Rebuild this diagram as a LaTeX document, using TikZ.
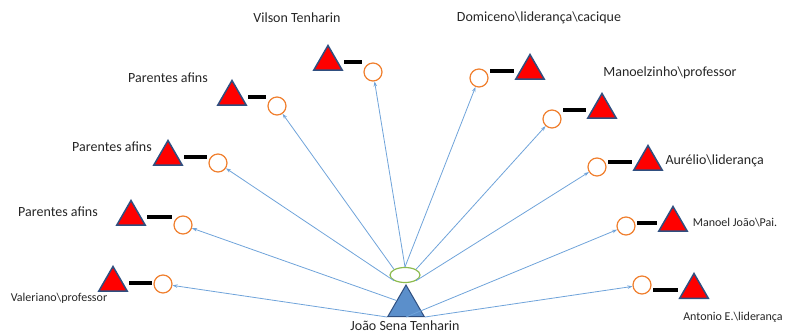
\documentclass[tikz,border=0pt]{standalone}
\usepackage{fontspec}
\setmainfont{Carlito}
\usetikzlibrary{shapes.geometric,arrows.meta}
\definecolor{contorno}{HTML}{2F4F80}
\definecolor{laranja}{HTML}{F07F2E}
\definecolor{verde}{HTML}{8DBB4E}
\definecolor{azul}{HTML}{5B8FCB}
\definecolor{linha}{HTML}{6FA3DA}
\definecolor{texto}{HTML}{262626}
\begin{document}
\begin{tikzpicture}[x=1pt,y=1pt,
    homem/.style={regular polygon,regular polygon sides=3,minimum size=33pt,inner sep=0pt,fill=red,draw=contorno,line width=1.5pt},
    mulher/.style={circle,minimum size=18pt,inner sep=0pt,fill=white,draw=laranja,line width=1.2pt},
    casal/.style={line width=4pt,shorten <=6pt,shorten >=11pt},
    seta/.style={draw=linha,line width=0.8pt,-{Stealth[length=5pt,width=3.5pt]}},
    nome/.style={font=\fontsize{14}{16}\selectfont,text=texto},
    nomep/.style={font=\fontsize{12}{14}\selectfont,text=texto}]
  \useasboundingbox (0,0) rectangle (785,335);
  % ego e esposa
  \node[regular polygon,regular polygon sides=3,minimum size=42pt,inner sep=0pt,fill=azul,draw=contorno,line width=1pt] (ego) at (406,29) {};
  \node[ellipse,minimum width=30pt,minimum height=15pt,inner sep=0pt,fill=white,draw=verde,line width=1.2pt] (esp) at (405,60) {};
  \node[nome] (lego) at (405,9) {João Sena Tenharin};
  % lado esquerdo
  \node[homem] (t1) at (113,52) {};  \node[mulher] (c1) at (163,51) {};
  \node[homem] (t2) at (131,118) {}; \node[mulher] (c2) at (183,110) {};
  \node[homem] (t3) at (168,178) {}; \node[mulher] (c3) at (218,172) {};
  \node[homem] (t4) at (232,238) {}; \node[mulher] (c4) at (277,229) {};
  \node[homem] (t5) at (328,273) {}; \node[mulher] (c5) at (373,263) {};
  % lado direito
  \node[homem] (t6) at (530,264) {};  \node[mulher] (c6) at (479,257) {};
  \node[homem] (t7) at (602,225) {};  \node[mulher] (c7) at (552,216) {};
  \node[homem] (t8) at (648,173) {};  \node[mulher] (c8) at (597,168) {};
  \node[homem] (t9) at (673,112) {};  \node[mulher] (c9) at (626,109) {};
  \node[homem] (t10) at (694,45) {};  \node[mulher] (c10) at (642,50) {};
  % nomes
  \node[nomep] (l1) at (59,37) {Valeriano\textbackslash professor};
  \node[nome] (l2) at (58,123) {Parentes afins};
  \node[nome] (l3) at (112,188) {Parentes afins};
  \node[nome] (l4) at (168,257) {Parentes afins};
  \node[nome] (l5) at (297,317) {Vilson Tenharin};
  \node[nome] (l6) at (539,317) {Domiceno\textbackslash liderança\textbackslash cacique};
  \node[nome] (l7) at (670,262) {Manoelzinho\textbackslash professor};
  \node[nome,anchor=west] (l8) at (662,174) {Aurélio\textbackslash liderança};
  \node[nomep] (l9) at (735,112) {Manoel João\textbackslash Pai.};
  \node[nomep] (l10) at (733,18) {Antonio E.\textbackslash liderança};
  % casamentos
  \foreach \i in {1,...,10}{\draw[casal] (t\i) -- (t\i -| c\i);}
  % ligacoes
  \foreach \o/\d in {ego.corner 2/c1,ego.side 1/c2,esp.south west/c3,esp.north west/c4,esp.north/c5,
                     esp.north/c6,esp.north east/c7,esp.south east/c8,ego.side 2/c9,ego.corner 3/c10}
    {\draw[seta] (\o) -- (\d);}
\end{tikzpicture}
\end{document}
